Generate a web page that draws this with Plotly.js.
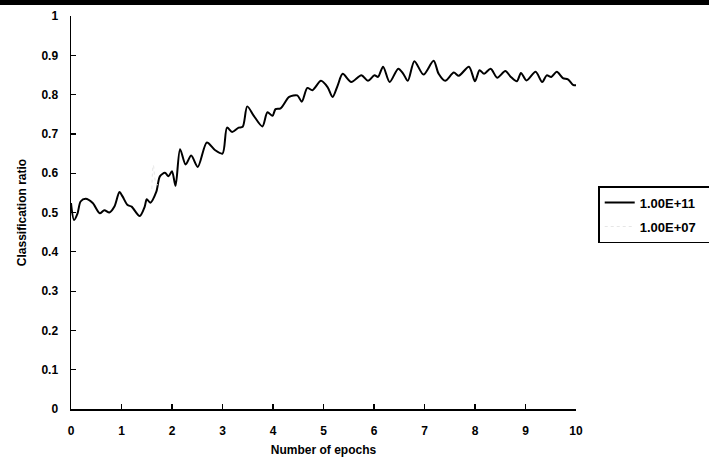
<!DOCTYPE html>
<html>
<head>
<meta charset="utf-8">
<script src="https://cdn.plot.ly/plotly-3.0.1.min.js"></script>
<style>
html,body{margin:0;padding:0;background:#fff;overflow:hidden;}
#band{position:absolute;left:0;top:0;width:709px;height:5px;background:#000;z-index:10;}
#chart{width:709px;height:469px;}
</style>
</head>
<body>
<div id="band"></div>
<div id="chart"></div>
<script>
// Series 1.00E+11 (solid black)
const epochs = [0.00,0.06,0.13,0.19,0.29,0.43,0.57,0.66,0.76,0.86,0.96,1.02,1.12,1.20,1.36,1.46,1.50,1.57,1.69,1.76,1.86,1.93,2.00,2.07,2.16,2.27,2.38,2.51,2.69,2.85,3.00,3.09,3.19,3.32,3.40,3.49,3.62,3.79,3.89,3.99,4.05,4.15,4.32,4.48,4.57,4.68,4.78,4.95,5.08,5.18,5.28,5.38,5.55,5.75,5.88,6.01,6.08,6.18,6.31,6.48,6.58,6.67,6.80,6.98,7.18,7.28,7.41,7.58,7.68,7.88,8.00,8.09,8.18,8.31,8.44,8.60,8.71,8.83,8.91,9.02,9.20,9.33,9.42,9.51,9.62,9.74,9.84,9.94,10.00];
const ratioE11 = [0.524,0.481,0.498,0.528,0.535,0.524,0.498,0.506,0.500,0.515,0.552,0.541,0.519,0.515,0.491,0.515,0.534,0.525,0.553,0.592,0.601,0.592,0.605,0.568,0.661,0.622,0.645,0.616,0.678,0.659,0.650,0.716,0.705,0.716,0.718,0.770,0.746,0.719,0.755,0.746,0.763,0.765,0.794,0.798,0.782,0.817,0.811,0.835,0.819,0.794,0.823,0.853,0.832,0.849,0.835,0.849,0.845,0.871,0.832,0.866,0.853,0.835,0.885,0.851,0.886,0.853,0.835,0.856,0.848,0.871,0.834,0.862,0.853,0.866,0.843,0.860,0.845,0.834,0.855,0.836,0.858,0.832,0.849,0.845,0.858,0.842,0.839,0.825,0.824];
// Series 1.00E+07 (very faint in the scan)
const epochsE07 = [1.60,1.63,1.68,1.72];
const ratioE07 = [0.560,0.620,0.575,0.570];

const seriesNames = ['1.00E+11', '1.00E+07'];
const xTicks = [0,1,2,3,4,5,6,7,8,9,10];
const yTicks = [0,0.1,0.2,0.3,0.4,0.5,0.6,0.7,0.8,0.9,1];
const yTickText = ['0','0.1','0.2','0.3','0.4','0.5','0.6','0.7','0.8','0.9','1'];

const fam = 'Arial, "Liberation Sans", sans-serif';
const f = {family:fam, size:12, color:'#000', weight:'bold'};
const pad = '\u00a0\u00a0\u00a0\u00a0';

const traces = [
  {x:epochs, y:ratioE11, type:'scatter', mode:'lines', name:seriesNames[0] + pad, legendgroup:'a',
   line:{color:'#000', width:2, shape:'spline', smoothing:0.8}},
  {x:epochsE07, y:ratioE07, type:'scatter', mode:'lines', name:seriesNames[1] + pad, legendgroup:'b',
   line:{color:'#e6e6e6', width:1, dash:'dot', shape:'spline'}}
];

const layout = {
  width:709, height:469,
  margin:{l:71, r:133, t:16, b:60, autoexpand:false},
  paper_bgcolor:'#fff', plot_bgcolor:'#fff',
  font:f,
  showlegend:true,
  legend:{x:1.044, xanchor:'left', y:0.567, yanchor:'top',
          bordercolor:'#000', borderwidth:1.5, bgcolor:'#fff',
          font:{family:fam, size:13, color:'#000', weight:'bold'}, itemwidth:30, tracegroupgap:4},
  xaxis:{range:[0,10], tickvals:xTicks, ticktext:xTicks.map(String),
         ticks:'inside', ticklen:5, tickwidth:1.2, tickcolor:'#000',
         showline:true, linecolor:'#000', linewidth:1.5,
         showgrid:false, zeroline:false, ticklabelstandoff:10,
         tickfont:f, automargin:false,
         title:{text:'Number of epochs', font:f, standoff:8}},
  yaxis:{range:[0,1], tickvals:yTicks, ticktext:yTickText,
         ticks:'inside', ticklen:5, tickwidth:1.2, tickcolor:'#000',
         showline:true, linecolor:'#000', linewidth:1.5,
         showgrid:false, zeroline:false, ticklabelstandoff:9,
         tickfont:f, automargin:false,
         title:{text:'Classification ratio', font:f, standoff:12}}
};

Plotly.newPlot('chart', traces, layout, {displayModeBar:false, staticPlot:true});
</script>
</body>
</html>
